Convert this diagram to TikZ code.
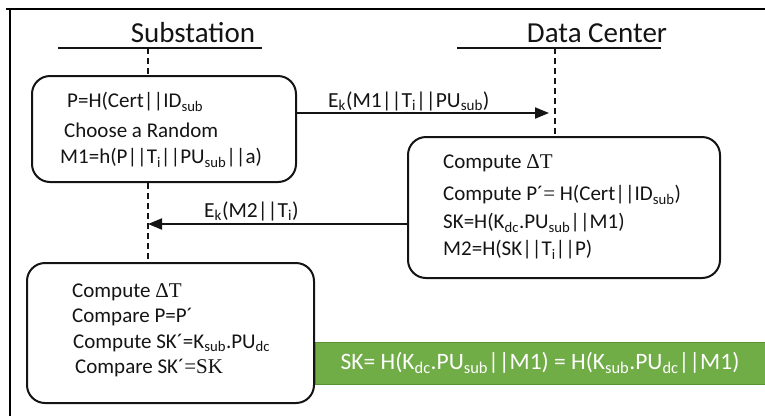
\documentclass[tikz,border=0pt]{standalone}
\usepackage{fontspec}
\setmainfont{Carlito}
\newfontfamily\symfont{Liberation Serif}
\usetikzlibrary{arrows.meta}

\definecolor{ink}{RGB}{20,20,20}
\definecolor{keygreen}{RGB}{112,173,71}
\definecolor{keyedge}{RGB}{88,145,52}

\newcommand\lowix[1]{\textsubscript{#1}}

\tikzset{
  heading/.style={font=\fontsize{29}{34}\selectfont, text=ink, inner sep=0pt},
  rule/.style={line width=2.2pt, draw=ink},
  lifeline/.style={draw=ink, line width=1.6pt, dash pattern=on 6pt off 4pt},
  procbox/.style={draw=ink, line width=2pt, rounded corners=18pt, inner sep=0pt},
  stepline/.style={font=\fontsize{21}{25}\selectfont, text=ink, anchor=west, inner sep=0pt},
  msgline/.style={draw=ink, line width=2pt, -{Triangle[length=14pt,width=11pt]}},
  msglabel/.style={font=\fontsize{21.5}{25}\selectfont, text=ink, anchor=west, inner sep=0pt},
  keybar/.style={fill=keygreen, draw=keyedge, line width=0.8pt, inner sep=0pt,
    text=white, font=\fontsize{23.5}{28}\selectfont}
}

\begin{document}
\begin{tikzpicture}[x=1pt, y=-1pt]
  \path[use as bounding box] (0,0) rectangle (765,416);

  % outer frame (top and left edges)
  \draw[line width=2.6pt, draw=black] (6,9) -- (765,9);
  \draw[line width=2pt, draw=black] (10,8) -- (10,416);

  % party headings and their rules
  \node[heading] (subT) at (193,33) {Substation};
  \node[heading] (dcT) at (597,33) {Data Center};
  \coordinate (subRuleL) at (58,48);
  \coordinate (subRuleR) at (262,48);
  \coordinate (dcRuleL) at (457,48);
  \coordinate (dcRuleR) at (661,48);
  \draw[rule] (subRuleL) -- (subRuleR);
  \draw[rule] (dcRuleL) -- (dcRuleR);

  % lifeline x positions
  \coordinate (subX) at (148,0);
  \coordinate (dcX) at (555,0);

  % green shared-key bar (drawn before the last box so its border stays on top)
  \node[keybar, minimum width=450pt, minimum height=42pt] (key) at (540,363)
    {SK= H(K\lowix{dc}.PU\lowix{sub}||M1) = H(K\lowix{sub}.PU\lowix{dc}||M1)};

  % processing boxes
  \node[procbox, minimum width=264pt, minimum height=106pt] (b1) at (164,129) {};
  \node[procbox, minimum width=312pt, minimum height=141pt] (b2) at (564,207.5) {};
  \node[procbox, minimum width=287pt, minimum height=140pt] (b3) at (170.5,333) {};

  % lifelines
  \draw[lifeline] (subX |- subRuleL) -- (subX |- b1.north);
  \draw[lifeline] (subX |- b1.south) -- (subX |- b3.north);
  \draw[lifeline] (dcX |- dcRuleL) -- (dcX |- b2.north);

  % substation: first step
  \node[stepline] (s1a) at (67,102) {P=H(Cert||ID\lowix{sub}};
  \node[stepline] (s1b) at (64,130) {Choose a Random};
  \node[stepline] (s1c) at (60,158) {M1=h(P||T\lowix{i}||PU\lowix{sub}||a)};

  % message 1
  \coordinate (m1end) at (549,113);
  \draw[msgline] (b1.east |- m1end) -- (m1end);
  \node[msglabel] (m1lbl) at (328,101) {E\lowix{k}(M1||T\lowix{i}||PU\lowix{sub})};

  % data center step
  \node[stepline] (d1) at (443,163) {Compute {\symfont ΔT}};
  \node[stepline] (d2) at (443,195) {Compute P´{\symfont =} H(Cert||ID\lowix{sub})};
  \node[stepline] (d3) at (443,223) {SK=H(K\lowix{dc}.PU\lowix{sub}||M1)};
  \node[stepline] (d4) at (443,250) {M2=H(SK||T\lowix{i}||P)};

  % message 2
  \coordinate (m2end) at (148,224);
  \draw[msgline] (b2.west |- m2end) -- (m2end);
  \node[msglabel] (m2lbl) at (204,211) {E\lowix{k}(M2||T\lowix{i})};

  % substation: verification step
  \node[stepline] (v1) at (72,292) {Compute {\symfont ΔT}};
  \node[stepline] (v2) at (72,317) {Compare P=P´};
  \node[stepline] (v3) at (73,343) {Compute SK´=K\lowix{sub}.PU\lowix{dc}};
  \node[stepline] (v4) at (75,368) {Compare SK´{\symfont =SK}};
\end{tikzpicture}
\end{document}
